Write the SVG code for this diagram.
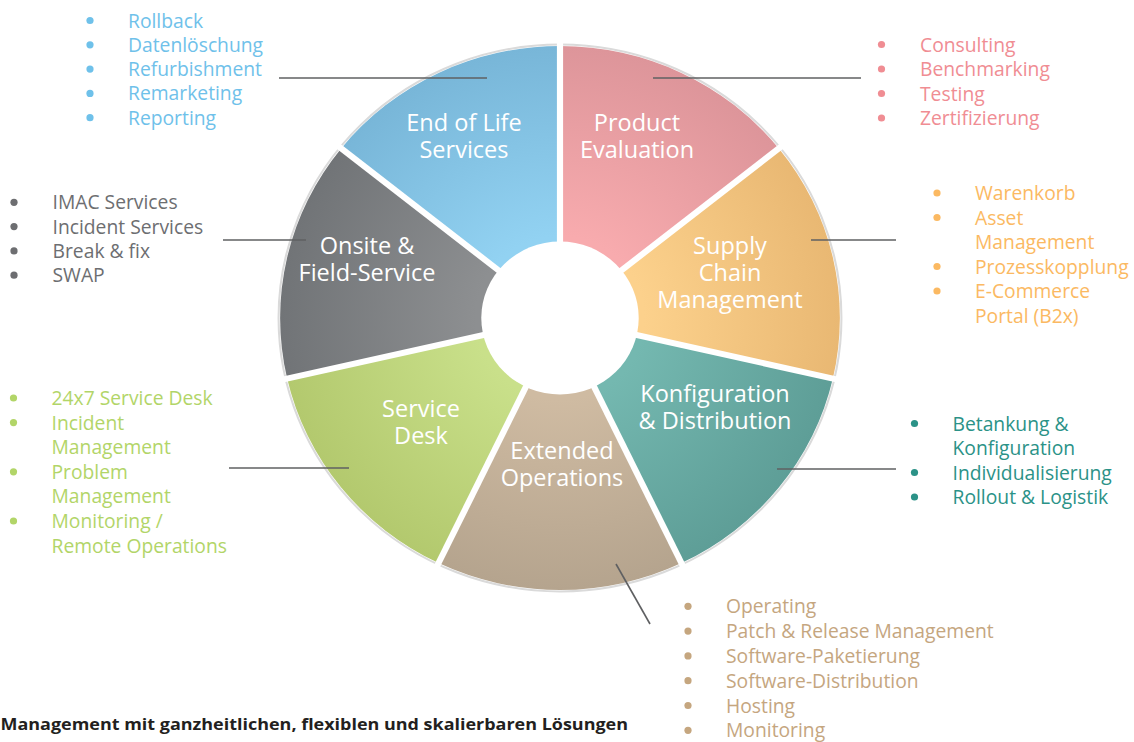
<svg xmlns="http://www.w3.org/2000/svg" width="1134" height="742" viewBox="0 0 1134 742">
  <style>
    text { font-family: "Open Sans", "Noto Sans", "DejaVu Sans", sans-serif; }
    .seg-label { fill: #ffffff; font-size: 23.5px; text-anchor: middle; }
    .item { font-size: 19.3px; }
    .leader { stroke: #5f6062; stroke-width: 1.6; fill: none; }
    .sep { stroke: #ffffff; stroke-width: 6; }
    .blue { fill: #6fc1ea; }
    .pink { fill: #f08d93; }
    .orange { fill: #fbb962; }
    .grey { fill: #6d6e71; }
    .green { fill: #b2d568; }
    .teal { fill: #2b9287; }
    .tan { fill: #c5a67f; }
    .footer { font-size: 16px; font-weight: bold; fill: #231f20; }
  </style>
  <defs>
    <radialGradient id="g-blue" gradientUnits="userSpaceOnUse" cx="0" cy="0" r="272">
      <stop offset="0.3" stop-color="#92d2f2"/>
      <stop offset="1" stop-color="#78b6d8"/>
    </radialGradient>
    <radialGradient id="g-pink" gradientUnits="userSpaceOnUse" cx="0" cy="0" r="272">
      <stop offset="0.3" stop-color="#f8abae"/>
      <stop offset="1" stop-color="#dd959a"/>
    </radialGradient>
    <radialGradient id="g-orange" gradientUnits="userSpaceOnUse" cx="0" cy="0" r="272">
      <stop offset="0.3" stop-color="#fcd18c"/>
      <stop offset="1" stop-color="#e9b873"/>
    </radialGradient>
    <radialGradient id="g-teal" gradientUnits="userSpaceOnUse" cx="0" cy="0" r="272">
      <stop offset="0.3" stop-color="#74b8b0"/>
      <stop offset="1" stop-color="#5e9e97"/>
    </radialGradient>
    <radialGradient id="g-tan" gradientUnits="userSpaceOnUse" cx="0" cy="0" r="272">
      <stop offset="0.3" stop-color="#cfbba2"/>
      <stop offset="1" stop-color="#b5a48e"/>
    </radialGradient>
    <radialGradient id="g-green" gradientUnits="userSpaceOnUse" cx="0" cy="0" r="272">
      <stop offset="0.3" stop-color="#c9e08a"/>
      <stop offset="1" stop-color="#b3c96e"/>
    </radialGradient>
    <radialGradient id="g-grey" gradientUnits="userSpaceOnUse" cx="0" cy="0" r="272">
      <stop offset="0.3" stop-color="#8d8f91"/>
      <stop offset="1" stop-color="#717477"/>
    </radialGradient>
  </defs>

  <rect width="1134" height="742" fill="#ffffff"/>

  <!-- wheel: seven equal wedges around a white hub -->
  <g id="wheel" transform="translate(560,318) scale(1.029,1)">
    <circle r="273.5" fill="none" stroke="#dadada" stroke-width="2"/>
    <g id="seg-product"><path d="M0,0 L0,-272 A272,272 0 0 1 212.66,-169.59 Z" fill="url(#g-pink)"/></g>
    <g id="seg-supply"><path d="M0,0 L212.66,-169.59 A272,272 0 0 1 265.18,60.53 Z" fill="url(#g-orange)"/></g>
    <g id="seg-konfig"><path d="M0,0 L265.18,60.53 A272,272 0 0 1 118.02,245.06 Z" fill="url(#g-teal)"/></g>
    <g id="seg-extended"><path d="M0,0 L118.02,245.06 A272,272 0 0 1 -118.02,245.06 Z" fill="url(#g-tan)"/></g>
    <g id="seg-servicedesk"><path d="M0,0 L-118.02,245.06 A272,272 0 0 1 -265.18,60.53 Z" fill="url(#g-green)"/></g>
    <g id="seg-onsite"><path d="M0,0 L-265.18,60.53 A272,272 0 0 1 -212.66,-169.59 Z" fill="url(#g-grey)"/></g>
    <g id="seg-eol"><path d="M0,0 L-212.66,-169.59 A272,272 0 0 1 0,-272 Z" fill="url(#g-blue)"/></g>
    <g id="separators">
      <line class="sep" x1="0" y1="0" x2="0" y2="-280"/>
      <line class="sep" x1="0" y1="0" x2="218.9" y2="-174.6"/>
      <line class="sep" x1="0" y1="0" x2="273" y2="62.3"/>
      <line class="sep" x1="0" y1="0" x2="121.5" y2="252.3"/>
      <line class="sep" x1="0" y1="0" x2="-121.5" y2="252.3"/>
      <line class="sep" x1="0" y1="0" x2="-273" y2="62.3"/>
      <line class="sep" x1="0" y1="0" x2="-218.9" y2="-174.6"/>
    </g>
    <circle id="hub" r="76.5" fill="#ffffff"/>
  </g>

  <!-- wedge titles -->
  <g id="label-eol"><text class="seg-label" x="464" y="131">End of Life<tspan x="464" dy="27">Services</tspan></text></g>
  <g id="label-product"><text class="seg-label" x="637" y="131">Product<tspan x="637" dy="27">Evaluation</tspan></text></g>
  <g id="label-onsite"><text class="seg-label" x="367" y="254">Onsite &amp;<tspan x="367" dy="27">Field-Service</tspan></text></g>
  <g id="label-supply"><text class="seg-label" x="730" y="254">Supply<tspan x="730" dy="27">Chain</tspan><tspan x="730" dy="27">Management</tspan></text></g>
  <g id="label-konfig"><text class="seg-label" x="715" y="402">Konfiguration<tspan x="715" dy="27">&amp; Distribution</tspan></text></g>
  <g id="label-servicedesk"><text class="seg-label" x="421" y="417">Service<tspan x="421" dy="27">Desk</tspan></text></g>
  <g id="label-extended"><text class="seg-label" x="562" y="459">Extended<tspan x="562" dy="27">Operations</tspan></text></g>

  <!-- leader lines from wedges to their lists -->
  <g id="connectors">
    <line class="leader" x1="279" y1="78" x2="487" y2="78"/>
    <line class="leader" x1="653" y1="78" x2="861" y2="78"/>
    <line class="leader" x1="223" y1="240" x2="306" y2="240"/>
    <line class="leader" x1="811" y1="240" x2="896" y2="240"/>
    <line class="leader" x1="229" y1="468" x2="349" y2="468"/>
    <line class="leader" x1="777" y1="469" x2="896" y2="469"/>
    <line class="leader" x1="616" y1="564" x2="650" y2="624"/>
  </g>

  <!-- service lists -->
  <g id="list-eol" class="blue">
    <circle cx="90" cy="20.5" r="3.6"/><text class="item" x="128" y="27.5">Rollback</text>
    <circle cx="90" cy="44.8" r="3.6"/><text class="item" x="128" y="51.8">Datenlöschung</text>
    <circle cx="90" cy="69.1" r="3.6"/><text class="item" x="128" y="76.1">Refurbishment</text>
    <circle cx="90" cy="93.4" r="3.6"/><text class="item" x="128" y="100.4">Remarketing</text>
    <circle cx="90" cy="117.7" r="3.6"/><text class="item" x="128" y="124.7">Reporting</text>
  </g>
  <g id="list-product" class="pink">
    <circle cx="881.5" cy="44.5" r="3.6"/><text class="item" x="920" y="51.5">Consulting</text>
    <circle cx="881.5" cy="69" r="3.6"/><text class="item" x="920" y="76">Benchmarking</text>
    <circle cx="881.5" cy="93.5" r="3.6"/><text class="item" x="920" y="100.5">Testing</text>
    <circle cx="881.5" cy="118" r="3.6"/><text class="item" x="920" y="125">Zertifizierung</text>
  </g>
  <g id="list-supply" class="orange">
    <circle cx="937" cy="193" r="3.6"/><text class="item" x="975" y="200">Warenkorb</text>
    <circle cx="937" cy="217.5" r="3.6"/><text class="item" x="975" y="224.5">Asset<tspan x="975" dy="24.5">Management</tspan></text>
    <circle cx="937" cy="266.5" r="3.6"/><text class="item" x="975" y="273.5">Prozesskopplung</text>
    <circle cx="937" cy="291" r="3.6"/><text class="item" x="975" y="298">E-Commerce<tspan x="975" dy="24.5">Portal (B2x)</tspan></text>
  </g>
  <g id="list-onsite" class="grey">
    <circle cx="14" cy="202.3" r="3.6"/><text class="item" x="52.5" y="209.3">IMAC Services</text>
    <circle cx="14" cy="226.6" r="3.6"/><text class="item" x="52.5" y="233.6">Incident Services</text>
    <circle cx="14" cy="250.9" r="3.6"/><text class="item" x="52.5" y="257.9">Break &amp; fix</text>
    <circle cx="14" cy="275.2" r="3.6"/><text class="item" x="52.5" y="282.2">SWAP</text>
  </g>
  <g id="list-servicedesk" class="green">
    <circle cx="13.5" cy="398" r="3.6"/><text class="item" x="51.5" y="405">24x7 Service Desk</text>
    <circle cx="13.5" cy="422.6" r="3.6"/><text class="item" x="51.5" y="429.6">Incident<tspan x="51.5" dy="24.6">Management</tspan></text>
    <circle cx="13.5" cy="471.8" r="3.6"/><text class="item" x="51.5" y="478.8">Problem<tspan x="51.5" dy="24.6">Management</tspan></text>
    <circle cx="13.5" cy="521" r="3.6"/><text class="item" x="51.5" y="528">Monitoring /<tspan x="51.5" dy="24.6">Remote Operations</tspan></text>
  </g>
  <g id="list-konfig" class="teal">
    <circle cx="914.5" cy="423.5" r="3.6"/><text class="item" x="952.5" y="430.5">Betankung &amp;<tspan x="952.5" dy="24.5">Konfiguration</tspan></text>
    <circle cx="914.5" cy="472.5" r="3.6"/><text class="item" x="952.5" y="479.5">Individualisierung</text>
    <circle cx="914.5" cy="497" r="3.6"/><text class="item" x="952.5" y="504">Rollout &amp; Logistik</text>
  </g>
  <g id="list-extended" class="tan">
    <circle cx="688" cy="606.3" r="3.6"/><text class="item" x="726" y="613.3">Operating</text>
    <circle cx="688" cy="631.1" r="3.6"/><text class="item" x="726" y="638.1">Patch &amp; Release Management</text>
    <circle cx="688" cy="655.9" r="3.6"/><text class="item" x="726" y="662.9">Software-Paketierung</text>
    <circle cx="688" cy="680.7" r="3.6"/><text class="item" x="726" y="687.7">Software-Distribution</text>
    <circle cx="688" cy="705.5" r="3.6"/><text class="item" x="726" y="712.5">Hosting</text>
    <circle cx="688" cy="730.3" r="3.6"/><text class="item" x="726" y="737.3">Monitoring</text>
  </g>

  <text id="footer" class="footer" x="0.5" y="730" textLength="627.5" lengthAdjust="spacingAndGlyphs">Management mit ganzheitlichen, flexiblen und skalierbaren Lösungen</text>
</svg>
